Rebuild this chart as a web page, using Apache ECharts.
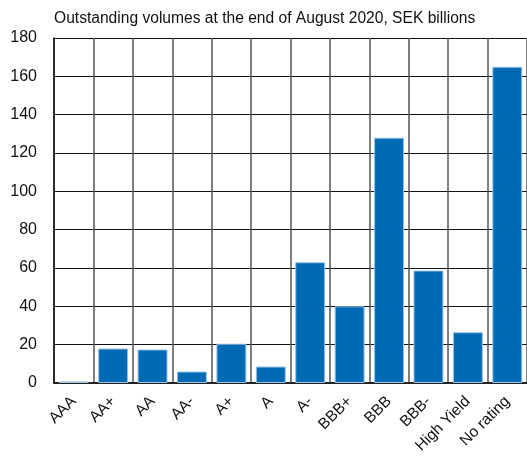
<!DOCTYPE html>
<html>
<head>
<meta charset="utf-8">
<script src="https://cdn.jsdelivr.net/npm/echarts@6/dist/echarts.min.js"></script>
<style>
  html, body { margin: 0; padding: 0; background: #fff; }
  #chart { width: 527px; height: 463px; }
</style>
</head>
<body>
<div id="chart"></div>
<script>
// 数据
const ratings = ['AAA', 'AA+', 'AA', 'AA-', 'A+', 'A', 'A-', 'BBB+', 'BBB', 'BBB-', 'High Yield', 'No rating']
const volumes = [0.8, 18, 17.5, 6, 20.5, 8.6, 63, 40, 128, 58.7, 26.5, 165]
const yTicks = { min: 0, max: 180, step: 20 }
const subtitle = 'Outstanding volumes at the end of August 2020, SEK billions'

const chart = echarts.init(document.getElementById('chart'))
const font = '"Liberation Sans", Arial, sans-serif'

const option = {
  animation: false,
  title: {
    text: subtitle,
    left: 49,
    top: 6,
    textStyle: { fontFamily: font, fontSize: 15.6, fontWeight: 'normal', color: '#111' }
  },
  grid: { left: 54, top: 38, bottom: 80, right: -4 },
  xAxis: {
    type: 'category',
    data: ratings,
    axisLine: { lineStyle: { color: '#222', width: 2 } },
    axisTick: { show: false },
    axisLabel: {
      interval: 0,
      rotate: 45,
      margin: 16,
      fontFamily: font,
      fontSize: 15.5,
      color: '#111'
    },
    splitLine: { show: true, interval: 0, lineStyle: { color: '#555', width: 1.5 } }
  },
  yAxis: {
    type: 'value',
    min: yTicks.min,
    max: yTicks.max,
    interval: yTicks.step,
    axisLine: { show: true, lineStyle: { color: '#111', width: 1.5 } },
    axisTick: { show: false },
    axisLabel: { margin: 17, fontFamily: font, fontSize: 16, color: '#111' },
    splitLine: { lineStyle: { color: '#111', width: 1 } }
  },
  series: [{
    type: 'bar',
    data: volumes,
    barCategoryGap: '24%',
    itemStyle: { color: '#006ab4', borderColor: '#9cc3e6', borderWidth: 1 }
  }]
}

chart.setOption(option)
</script>
</body>
</html>
